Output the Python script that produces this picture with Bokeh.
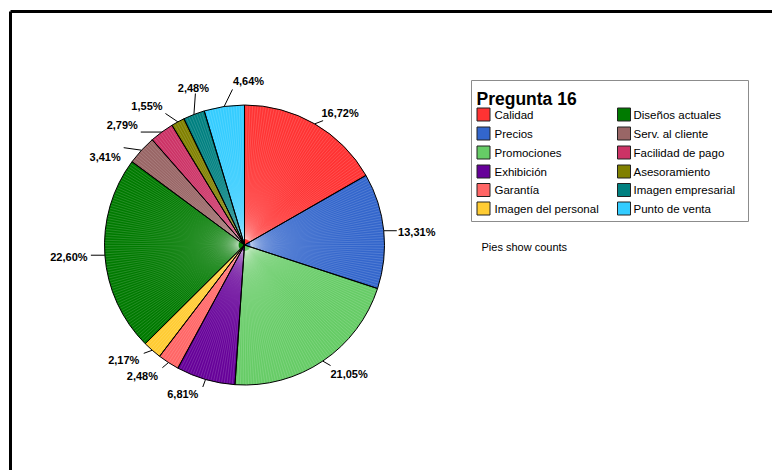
import math
from bokeh.plotting import figure
from bokeh.models import Range1d
from bokeh.core.properties import value
from bokeh.embed import file_html
from bokeh.resources import INLINE

# ---------------- data ----------------
categories = ["Calidad", "Precios", "Promociones", "Exhibición", "Garantía",
              "Imagen del personal", "Diseños actuales", "Serv. al cliente",
              "Facilidad de pago", "Asesoramiento", "Imagen empresarial",
              "Punto de venta"]
counts = [54, 43, 68, 22, 8, 7, 73, 11, 9, 5, 8, 15]
colors = ["#FF3333", "#3366CC", "#66CC66", "#660099", "#FF6666", "#FFCC33",
          "#007A00", "#996666", "#CC3366", "#808000", "#008080", "#33CCFF"]
legend_title = "Pregunta 16"
footnote = "Pies show counts"

# ---------------- layout ----------------
W, H = 772, 470
CX, CY, R = 244.0, 244.5, 140.0          # pie centre / radius (screen px)
FONT = value("Liberation Sans")
# per-slice label layout: leader direction (deg cw from top), leader length,
# text-centre offset from leader end (screen px)
lead_dir = [69, 90, 120, 200, 230, 250, 270, 278, 270, 304, 4, 26]
lead_len = [9, 13, 9, 8, 8, 9, 14, 18, 21, 15, 21, 19]
txt_dx = [17, 20, 18.5, -20, -20, -20, -22, -18.5, -18.5, -18.5, -2, 16]
txt_dy = [-8, 1, 8, 7, 8, 7, 2, 9, -7.5, -7, -6, -8]


def sy(y):
    return H - y


def rad(deg_cw):
    # clockwise-from-top degrees -> bokeh radians (ccw from +x)
    return math.radians(90 - deg_cw)


p = figure(width=W, height=H, x_range=Range1d(0, W), y_range=Range1d(0, H),
           x_axis_type=None, y_axis_type=None, toolbar_location=None,
           output_backend="svg", min_border=0)
p.outline_line_color = None
p.background_fill_color = "white"

# outer frame (top and left edges visible in the window)
p.segment(x0=[10, 10], y0=[sy(11), sy(11)], x1=[W, 10], y1=[sy(11), 0],
          line_color="black", line_width=3, line_cap="butt")

total = sum(counts)

# solid slices
ss, se, mids, bounds = [], [], [], []
cum = 0
for c in counts:
    t0 = cum / total * 360
    t1 = (cum + c) / total * 360
    ss.append(rad(t0))
    se.append(rad(t1))
    mids.append((t0 + t1) / 2)
    bounds.append([(cum + k) / total * 360 for k in range(1, c)])
    cum += c
p.wedge(x=[CX] * len(ss), y=[sy(CY)] * len(ss), radius=R, radius_units="screen",
        start_angle=ss, end_angle=se, direction="clock",
        fill_color=colors, line_color=None)

# count separators inside each slice (pies show counts)
qx0, qy0, qx1, qy1 = [], [], [], []
for bl in bounds:
    for t in bl:
        a = math.radians(t)
        qx0.append(CX + 6 * math.sin(a)); qy0.append(sy(CY - 6 * math.cos(a)))
        qx1.append(CX + (R - 0.5) * math.sin(a)); qy1.append(sy(CY - (R - 0.5) * math.cos(a)))
p.segment(x0=qx0, y0=qy0, x1=qx1, y1=qy1, line_color="white", line_alpha=0.3, line_width=0.5)

# slice outlines
p.wedge(x=[CX] * len(ss), y=[sy(CY)] * len(ss), radius=R, radius_units="screen",
        start_angle=ss, end_angle=se, direction="clock",
        fill_alpha=0, line_color="black", line_width=1)

# leader lines and percentage labels
lx0, ly0, lx1, ly1, tx, ty, tt = [], [], [], [], [], [], []
for i, c in enumerate(counts):
    m = math.radians(mids[i])
    x0 = CX + R * math.sin(m)
    y0 = CY - R * math.cos(m)
    d = math.radians(lead_dir[i])
    x1 = x0 + lead_len[i] * math.sin(d)
    y1 = y0 - lead_len[i] * math.cos(d)
    lx0.append(x0); ly0.append(sy(y0)); lx1.append(x1); ly1.append(sy(y1))
    tx.append(x1 + txt_dx[i]); ty.append(sy(y1 + txt_dy[i]))
    tt.append(f"{c / total * 100:.2f}".replace(".", ",") + "%")
p.segment(x0=lx0, y0=ly0, x1=lx1, y1=ly1, line_color="black", line_width=1)
p.text(x=tx, y=ty, text=tt, text_align="center", text_baseline="middle",
       text_font=FONT, text_font_style="bold", text_font_size="11px", text_color="black")

# legend
p.quad(left=[471], right=[748], top=[sy(80)], bottom=[sy(221)],
       fill_color="white", line_color="#8C8C8C", line_width=1)
p.text(x=[476], y=[sy(98)], text=[legend_title], text_align="left", text_baseline="middle",
       text_font=FONT, text_font_style="bold", text_font_size="17.5px", text_color="black")
row_y = [114, 133, 152, 171, 189.5, 208]
sw_x, sw_y, tx2, ty2, tl, scol = [], [], [], [], [], []
for i, name in enumerate(categories):
    col_i, row_i = divmod(i, 6)
    x_sw = 483 if col_i == 0 else 623.5
    x_tx = 494 if col_i == 0 else 633
    sw_x.append(x_sw); sw_y.append(sy(row_y[row_i]))
    tx2.append(x_tx); ty2.append(sy(row_y[row_i]))
    tl.append(name); scol.append(colors[i])
p.rect(x=sw_x, y=sw_y, width=13, height=13, width_units="screen", height_units="screen",
       fill_color=scol, line_color="#222222", line_width=1)
p.text(x=tx2, y=ty2, text=tl, text_align="left", text_baseline="middle",
       text_font=FONT, text_font_size="11.5px", text_color="black")

p.text(x=[481], y=[sy(246)], text=[footnote], text_align="left", text_baseline="middle",
       text_font=FONT, text_font_size="11px", text_color="black")

open("out.html", "w").write(file_html(p, INLINE))
